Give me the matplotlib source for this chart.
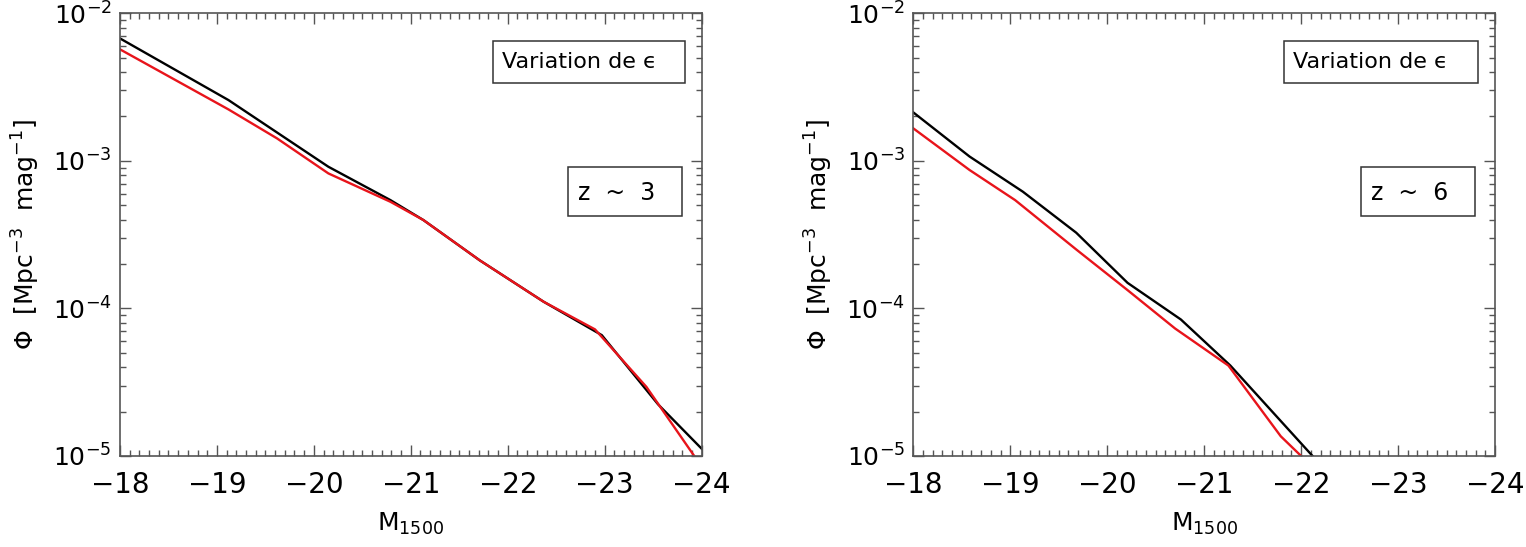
import matplotlib
matplotlib.use('Agg')
import matplotlib.pyplot as plt
from matplotlib.ticker import MultipleLocator, LogLocator, NullFormatter

plt.rcParams['font.family'] = ['DejaVu Sans']
plt.rcParams['axes.unicode_minus'] = True

# z ~ 3 panel
mag_z3_ref = [-18.0, -19.12, -20.15, -20.79, -21.13, -21.71, -22.37, -22.97, -23.55, -24.0]
phi_z3_ref = [6.76e-3, 2.58e-3, 9.12e-4, 5.42e-4, 3.97e-4, 2.12e-4, 1.11e-4, 6.59e-5, 2.24e-5, 1.12e-5]
mag_z3_eps = [-18.0, -19.12, -19.62, -20.15, -20.79, -21.13, -21.71, -22.37, -22.90, -23.43, -23.93]
phi_z3_eps = [5.70e-3, 2.23e-3, 1.42e-3, 8.22e-4, 5.28e-4, 3.97e-4, 2.12e-4, 1.11e-4, 7.21e-5, 2.94e-5, 9.86e-6]

# z ~ 6 panel
mag_z6_ref = [-18.0, -18.58, -19.13, -19.68, -20.21, -20.76, -21.27, -22.13]
phi_z6_ref = [2.13e-3, 1.07e-3, 6.18e-4, 3.26e-4, 1.49e-4, 8.41e-5, 4.1e-5, 9.8e-6]
mag_z6_eps = [-18.0, -18.58, -19.05, -19.68, -20.21, -20.70, -21.25, -21.79, -22.0]
phi_z6_eps = [1.66e-3, 8.67e-4, 5.42e-4, 2.51e-4, 1.33e-4, 7.31e-5, 4.1e-5, 1.36e-5, 1.0e-5]

panels = [
    (mag_z3_ref, phi_z3_ref, mag_z3_eps, phi_z3_eps, 'z  ~  3'),
    (mag_z6_ref, phi_z6_ref, mag_z6_eps, phi_z6_eps, 'z  ~  6'),
]
xticks = [-18, -19, -20, -21, -22, -23, -24]

fig = plt.figure(figsize=(15.26, 5.47), dpi=100)
lefts = [0.0786, 0.5985]
width = 0.3812
bottom = 0.1664
height = 0.8093
spine_col = '#555555'

for i, (mx, px, me, pe, zlab) in enumerate(panels):
    ax = fig.add_axes([lefts[i], bottom, width, height])
    ax.plot(mx, px, color='black', lw=1.7)
    ax.plot(me, pe, color='#e8141b', lw=1.7)
    ax.set_yscale('log')
    ax.set_xlim(-18, -24)
    ax.set_ylim(1e-5, 1e-2)
    ax.set_xticks(xticks)
    ax.set_xticklabels(['\u2212%d' % abs(v) for v in xticks])
    ax.xaxis.set_minor_locator(MultipleLocator(0.1))
    ax.yaxis.set_major_locator(LogLocator(base=10, numticks=10))
    ax.yaxis.set_minor_locator(LogLocator(base=10, subs=range(2, 10), numticks=20))
    ax.yaxis.set_minor_formatter(NullFormatter())
    ax.tick_params(which='both', direction='in', top=True, right=True, color=spine_col, width=1)
    ax.tick_params(which='major', length=8)
    ax.tick_params(which='minor', length=4)
    ax.tick_params(axis='x', which='major', labelsize=20, pad=11)
    ax.tick_params(axis='y', which='major', labelsize=18, pad=6)
    for s in ax.spines.values():
        s.set_color(spine_col)
        s.set_linewidth(1.2)
    ax.set_xlabel(r'M$_{\mathregular{1500}}$', fontsize=18, labelpad=8)
    ax.set_ylabel(r'$\Phi$  [Mpc$^{-3}$  mag$^{-1}$]', fontsize=18, labelpad=8)

    bx0 = 0.641 if i == 0 else 0.637
    ax.add_patch(plt.Rectangle((bx0, 0.842), 0.971 - bx0, 0.095, transform=ax.transAxes,
                               fill=False, edgecolor='#333333', lw=1.1))
    ax.text(bx0 + 0.015, 0.889, 'Variation de \u03f5', transform=ax.transAxes,
            fontsize=16, va='center', ha='left')
    ax.add_patch(plt.Rectangle((0.770, 0.543), 0.196, 0.109, transform=ax.transAxes,
                               fill=False, edgecolor='#333333', lw=1.1))
    ax.text(0.787, 0.595, zlab, transform=ax.transAxes, fontsize=17, va='center', ha='left')

fig.savefig('out.png', dpi=100)
